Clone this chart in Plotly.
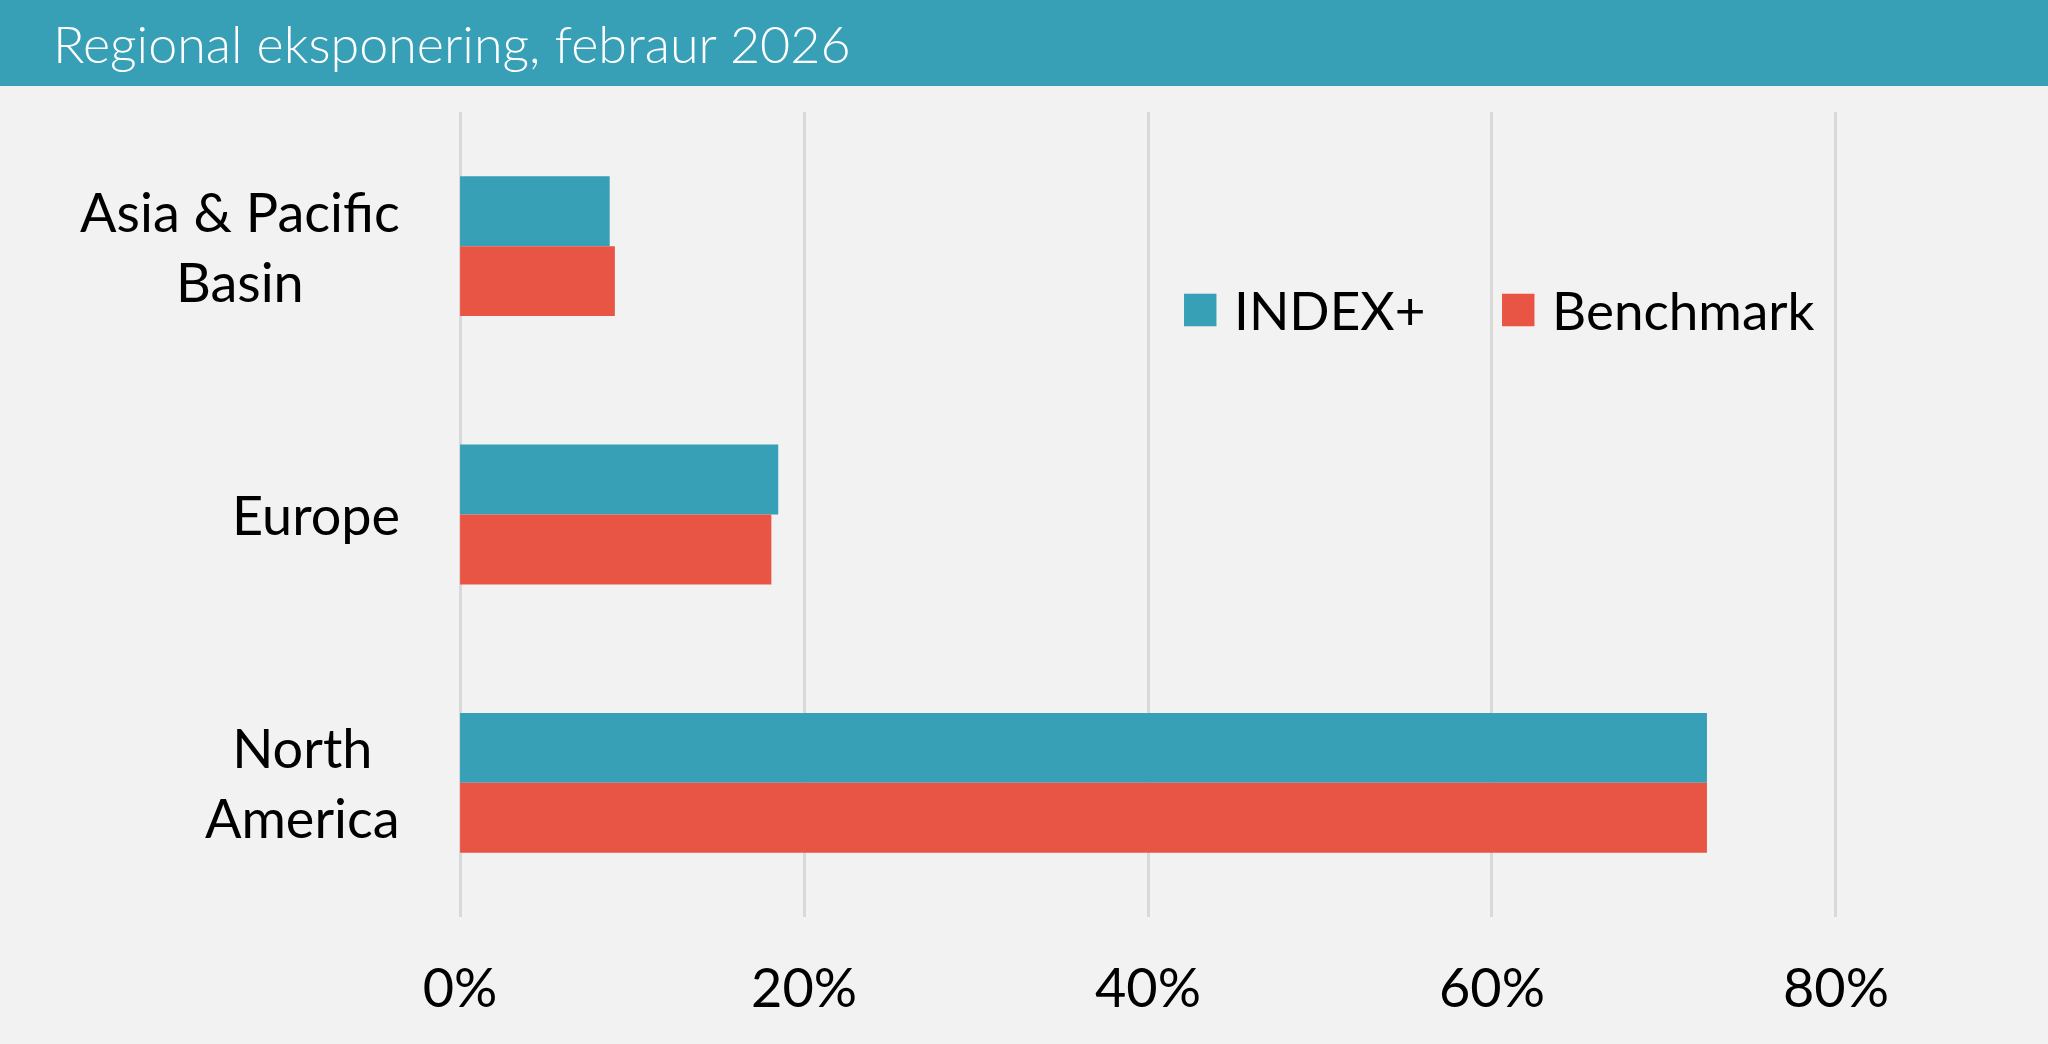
import plotly.graph_objects as go

# data
regions = ["Asia & Pacific Basin", "Europe", "North America"]
region_labels = ["Asia & Pacific<br>Basin", "Europe", "North<br>America"]
index_plus = [0.087, 0.185, 0.725]
benchmark = [0.090, 0.181, 0.725]
series_names = ["INDEX+", "Benchmark"]
x_ticks = [0, 0.2, 0.4, 0.6, 0.8]
x_ticklabels = ["0%", "20%", "40%", "60%", "80%"]

teal = "#379FB6"
red = "#E95545"
bg = "#F2F2F2"
font = "Lato"

fig = go.Figure()
fig.add_trace(go.Bar(y=regions, x=index_plus, name=series_names[0], orientation="h",
                     marker=dict(color=teal, line=dict(width=0)), showlegend=False))
fig.add_trace(go.Bar(y=regions, x=benchmark, name=series_names[1], orientation="h",
                     marker=dict(color=red, line=dict(width=0)), showlegend=False))

# kategorier som annotasjoner, sentrert tekst
for reg, lab in zip(regions, region_labels):
    fig.add_annotation(x=-0.0406, xref="paper", y=reg, yref="y", text=lab,
                       xanchor="right", yanchor="middle", align="center",
                       showarrow=False, font=dict(family=font, size=54, color="#000"))

# egen forklaring
leg_x = [0.522, 0.752]
for name, col, lx in zip(series_names, [teal, red], leg_x):
    fig.add_annotation(x=lx, xref="paper", y=0.762, yref="paper",
                       text=f'<span style="color:{col};font-size:67px">■</span> {name}',
                       xanchor="left", yanchor="middle", showarrow=False,
                       font=dict(family=font, size=53, color="#000"))

# tittelbånd
fig.add_shape(type="rect", xref="paper", yref="paper", x0=-0.4, x1=1.3,
              y0=1.0323, y1=1.3, fillcolor=teal, line=dict(width=0), layer="below")

fig.update_layout(
    width=2048, height=1044,
    margin=dict(l=458, r=210, t=112, b=127),
    paper_bgcolor=bg, plot_bgcolor=bg,
    barmode="group", bargap=0.479, bargroupgap=0,
    title=dict(text="Regional eksponering, febraur 2026", x=53 / 2048, xanchor="left",
               y=1 - 45 / 1044, yanchor="middle", yref="container",
               font=dict(family=font, size=52, color="white", weight=300)),
    xaxis=dict(range=[-0.0012, 0.8012], tickvals=x_ticks, ticktext=x_ticklabels,
               showgrid=True, gridcolor="#D9D9D9", gridwidth=3,
               zeroline=True, zerolinecolor="#D9D9D9", zerolinewidth=3,
               showline=False, ticks="", ticklabelstandoff=35,
               tickfont=dict(family=font, size=54, color="#000")),
    yaxis=dict(autorange="reversed", showticklabels=False, showgrid=False,
               zeroline=False, showline=False, ticks=""),
)

fig.write_html("out.html", config={"displayModeBar": False},
               post_script="document.body.style.margin='0';")
